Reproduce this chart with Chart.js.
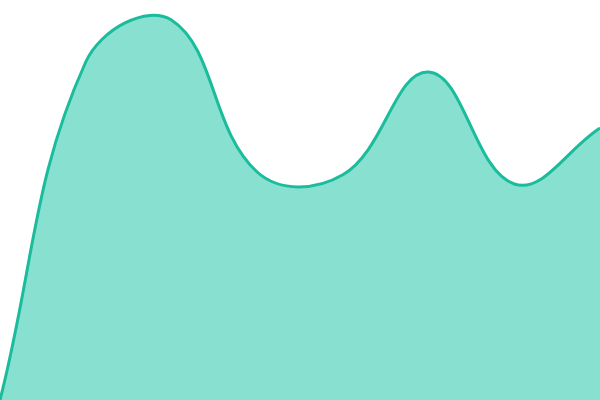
<!DOCTYPE html>
<html>
<head>
<meta charset="utf-8">
<script src="https://cdn.jsdelivr.net/npm/chart.js@4/dist/chart.umd.min.js"></script>
<style>
  html, body { margin: 0; padding: 0; background: #ffffff; }
  #wrap { width: 600px; height: 400px; }
</style>
</head>
<body>
<div id="wrap"><canvas id="chart"></canvas></div>
<script>
// данные графика
const labels = ['1', '2', '3', '4', '5', '6', '7', '8'];
const values = [0, 84.5, 95, 57, 56.3, 82, 54, 68];

const ctx = document.getElementById('chart').getContext('2d');

new Chart(ctx, {
    type: 'line',
    data: {
        labels: labels,
        datasets: [{
            data: values,
            borderColor: '#1abc9c',
            backgroundColor: 'rgba(17, 193, 161, 0.5)',
            borderWidth: 3,
            fill: 'origin',
            tension: 0.4,
            pointRadius: 0
        }]
    },
    options: {
        responsive: true,
        maintainAspectRatio: false,
        animation: false,
        layout: { padding: 0 },
        plugins: {
            legend: { display: false },
            tooltip: { enabled: false }
        },
        scales: {
            x: { display: false },
            y: { display: false, min: 0, max: 100 }
        }
    }
});
</script>
</body>
</html>
